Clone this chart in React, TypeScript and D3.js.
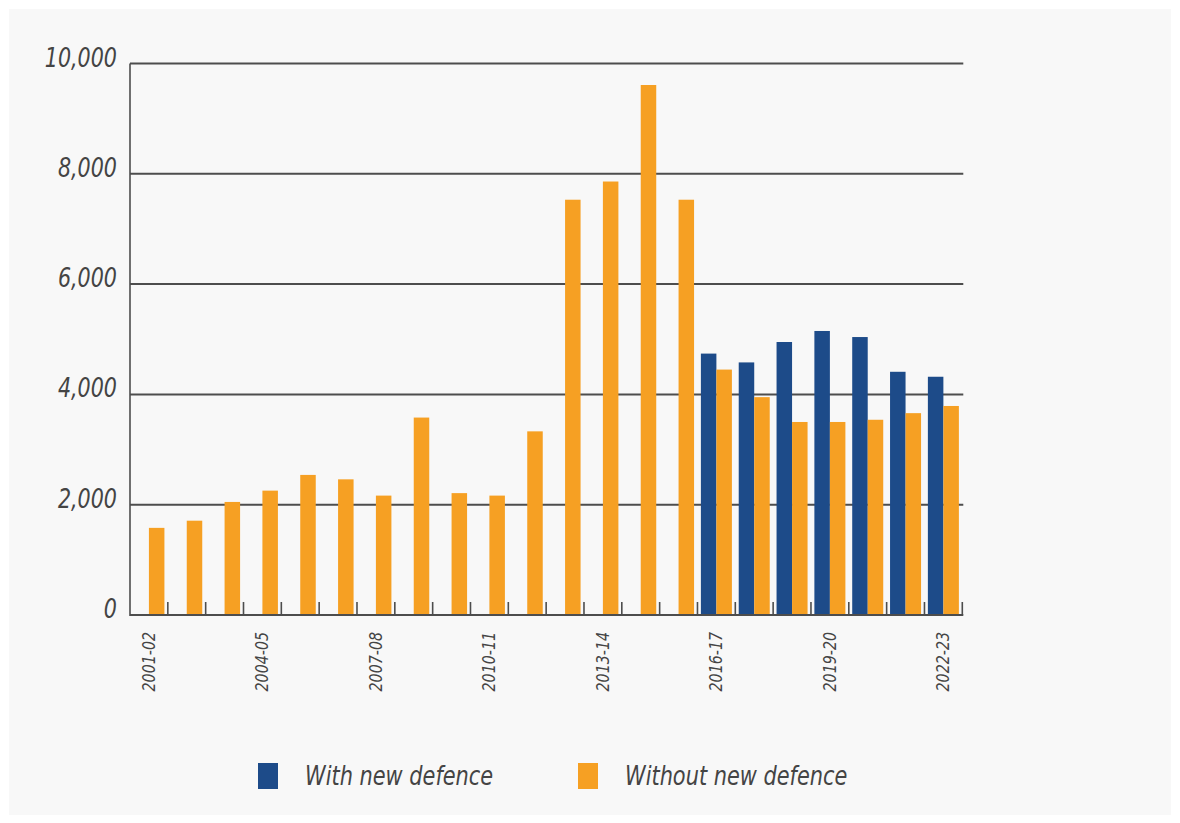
import React from "react";
import * as d3 from "d3";

const years = [
  "2001-02","2002-03","2003-04","2004-05","2005-06","2006-07","2007-08","2008-09",
  "2009-10","2010-11","2011-12","2012-13","2013-14","2014-15","2015-16","2016-17",
  "2017-18","2018-19","2019-20","2020-21","2021-22","2022-23",
];
const withNewDefence: (number | null)[] = [
  null,null,null,null,null,null,null,null,null,null,null,null,null,null,null,
  4740,4580,4950,5150,5040,4410,4320,
];
const withoutNewDefence = [
  1580,1710,2050,2255,2540,2460,2165,3580,2210,2165,3330,7530,7860,9610,7530,
  4450,3950,3500,3500,3540,3660,3790,
];
const yTicks = [0, 2000, 4000, 6000, 8000, 10000];
const labelledYears = ["2001-02","2004-05","2007-08","2010-11","2013-14","2016-17","2019-20","2022-23"];
const seriesKeys = ["with", "without"];
const seriesNames = ["With new defence", "Without new defence"];
const seriesColors = ["#1d4b89", "#f6a023"];

const FONT = "'DejaVu Sans Condensed', 'DejaVu Sans', sans-serif";

export default function App() {
  const W = 1180, H = 823;
  const x0 = 130, x1 = 962.3, y0 = 615, y1 = 63.5;
  const x = d3.scaleBand<string>().domain(years).range([x0, x1]).paddingInner(0).paddingOuter(0);
  const xs = d3.scaleBand<string>().domain(seriesKeys).range([0, x.bandwidth()]).paddingInner(0).paddingOuter(0.22);
  const y = d3.scaleLinear().domain([0, 10000]).range([y0, y1]);
  const fmt = d3.format(",");

  return (
    <svg width={W} height={H} style={{ position: "absolute", left: 0, top: 0 }}>
      <rect x={0} y={0} width={W} height={H} fill="#ffffff" />
      <rect x={9} y={9} width={1162} height={806} fill="#f8f8f8" />
      {/* gridlines */}
      {yTicks.filter(t => t > 0).map(t => (
        <line key={t} x1={x0} x2={x1 + 1} y1={y(t)} y2={y(t)} stroke="#4d4d4d" strokeWidth={2} />
      ))}
      {/* y labels */}
      {yTicks.map(t => (
        <text key={t} transform={`translate(117,${y(t) + 3}) scale(0.85,1)`} textAnchor="end"
          fontFamily={FONT} fontStyle="italic" fontSize={27} fill="#444">{fmt(t)}</text>
      ))}
      {/* bars */}
      {years.map((yr, i) => (
        <g key={yr} transform={`translate(${x(yr)},0)`}>
          {withNewDefence[i] != null && (
            <rect x={xs("with")} width={xs.bandwidth()} y={y(withNewDefence[i] as number)}
              height={y0 - y(withNewDefence[i] as number)} fill={seriesColors[0]} />
          )}
          <rect x={xs("without")} width={xs.bandwidth()} y={y(withoutNewDefence[i])}
            height={y0 - y(withoutNewDefence[i])} fill={seriesColors[1]} />
        </g>
      ))}
      {/* axes */}
      <line x1={x0} x2={x0} y1={y1} y2={y0 + 1} stroke="#4d4d4d" strokeWidth={1.6} />
      <line x1={x0} x2={x1 + 1} y1={y0} y2={y0} stroke="#4d4d4d" strokeWidth={2} />
      {years.map(yr => (
        <line key={yr} x1={(x(yr) as number) + x.bandwidth()} x2={(x(yr) as number) + x.bandwidth()}
          y1={y0} y2={y0 - 13} stroke="#4d4d4d" strokeWidth={1.6} />
      ))}
      {/* x labels */}
      {labelledYears.map(yr => {
        const cx = (x(yr) as number) + x.bandwidth() / 2;
        return (
          <text key={yr} transform={`translate(${cx + 6},632) rotate(-90) scale(0.88,1)`} textAnchor="end"
            fontFamily={FONT} fontStyle="italic" fontSize={18} fill="#444">{yr}</text>
        );
      })}
      {/* legend */}
      {seriesNames.map((name, i) => {
        const lx = [258, 578][i];
        return (
          <g key={name}>
            <rect x={lx} y={763} width={20} height={26} fill={seriesColors[i]} />
            <text transform={`translate(${lx + 47},785) scale(0.86,1)`} fontFamily={FONT} fontStyle="italic"
              fontSize={27} fill="#444">{name}</text>
          </g>
        );
      })}
    </svg>
  );
}
